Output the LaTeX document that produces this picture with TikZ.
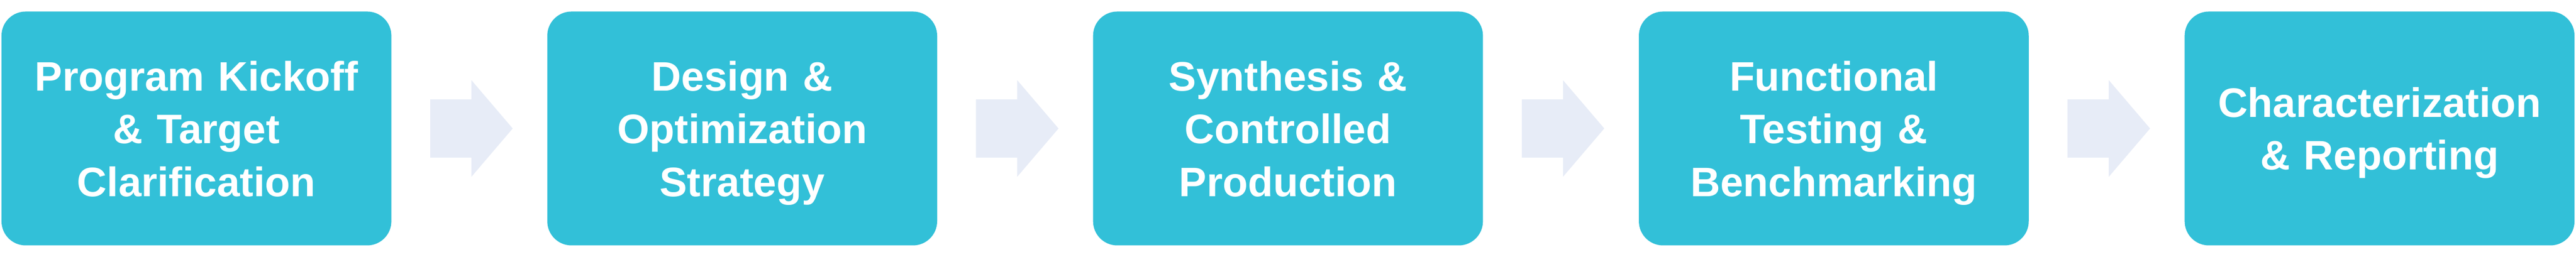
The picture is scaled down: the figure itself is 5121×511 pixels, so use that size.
\documentclass[tikz,border=0pt]{standalone}
\usepackage{fontspec}
\setmainfont{Liberation Sans}
\usetikzlibrary{calc}
\definecolor{boxcol}{RGB}{50,192,216}
\definecolor{arrcol}{RGB}{231,236,247}
\begin{document}
\begin{tikzpicture}[x=1pt,y=1pt,
  stage/.style={fill=boxcol, draw=none, rounded corners=48pt, minimum width=775pt, minimum height=465pt, inner sep=0pt},
  stagetext/.style={text=white, font=\fontsize{82}{105}\selectfont\bfseries, align=center, text width=760pt, anchor=base, inner sep=0pt},
  flow/.style={fill=arrcol, draw=none}
]
\useasboundingbox (0,0) rectangle (5121,511);
\fill[white] (0,0) rectangle (5121,511);
\node[stage] (b1) at (390.5,255.5) {};
\node[stage] (b2) at (1475.5,255.5) {};
\node[stage] (b3) at (2560.5,255.5) {};
\node[stage] (b4) at (3645.5,255.5) {};
\node[stage] (b5) at (4730.5,255.5) {};
\node[stagetext] (t1) at ($(b1.center)+(0,75)$) {Program Kickoff\\ \& Target\\ Clarification};
\node[stagetext] (t2) at ($(b2.center)+(0,75)$) {Design \&\\ Optimization\\ Strategy};
\node[stagetext] (t3) at ($(b3.center)+(0,75)$) {Synthesis \&\\ Controlled\\ Production};
\node[stagetext] (t4) at ($(b4.center)+(0,75)$) {Functional\\ Testing \&\\ Benchmarking};
\node[stagetext] (t5) at ($(b5.center)+(0,23)$) {Characterization\\ \& Reporting};
\foreach \s in {b1,b2,b3,b4}{
  \fill[flow] ($(\s.east)+(77,58)$) -- ($(\s.east)+(159,58)$) -- ($(\s.east)+(159,96)$) -- ($(\s.east)+(241,0)$) -- ($(\s.east)+(159,-96)$) -- ($(\s.east)+(159,-58)$) -- ($(\s.east)+(77,-58)$) -- cycle;
}
\end{tikzpicture}
\end{document}
